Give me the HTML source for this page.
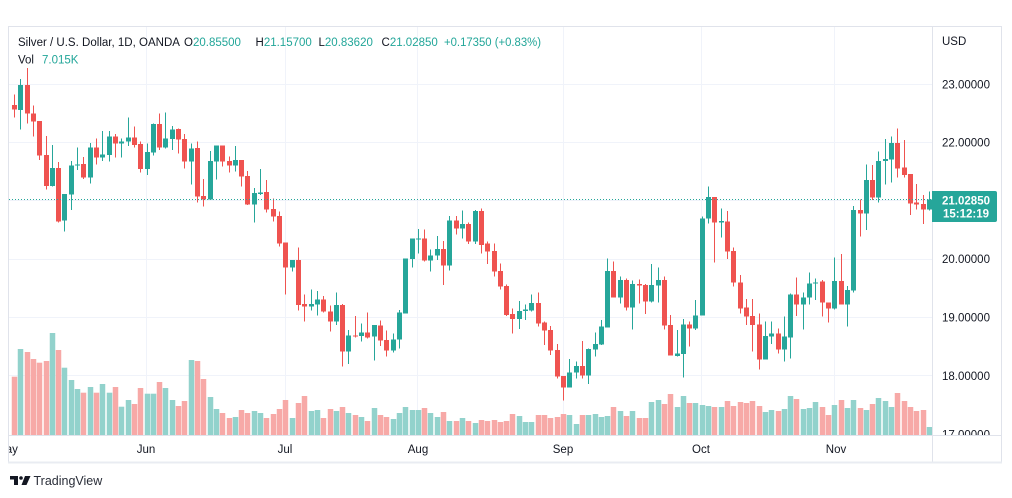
<!DOCTYPE html>
<html><head><meta charset="utf-8"><style>
html,body{margin:0;padding:0;background:#fff;}
svg{display:block;}
text{font-family:"Liberation Sans",sans-serif;}
</style></head><body>
<svg width="1012" height="498" viewBox="0 0 1012 498" xmlns="http://www.w3.org/2000/svg">
<defs>
<clipPath id="pane"><rect x="9" y="27" width="923" height="408"/></clipPath>
<clipPath id="axis"><rect x="933" y="27" width="68" height="408"/></clipPath>
<clipPath id="taxis"><rect x="9" y="436" width="923" height="26"/></clipPath>
</defs>
<rect width="1012" height="498" fill="#fff"/>
<!-- grid -->
<g stroke="#f0f3fa" stroke-width="1">
<line x1="9" y1="84.5" x2="932" y2="84.5"/>
<line x1="9" y1="142.5" x2="932" y2="142.5"/>
<line x1="9" y1="200.5" x2="932" y2="200.5"/>
<line x1="9" y1="259.5" x2="932" y2="259.5"/>
<line x1="9" y1="317.5" x2="932" y2="317.5"/>
<line x1="9" y1="375.5" x2="932" y2="375.5"/>
<line x1="146.5" y1="27" x2="146.5" y2="435"/>
<line x1="285.5" y1="27" x2="285.5" y2="435"/>
<line x1="417.5" y1="27" x2="417.5" y2="435"/>
<line x1="563.5" y1="27" x2="563.5" y2="435"/>
<line x1="701.5" y1="27" x2="701.5" y2="435"/>
<line x1="834.5" y1="27" x2="834.5" y2="435"/>
</g>
<g clip-path="url(#pane)">
<!-- volume green -->
<g fill="#92d2cc">
<rect x="17.75" y="349" width="5.5" height="86"/><rect x="49.75" y="333" width="5.5" height="102"/><rect x="61.75" y="367.7" width="5.5" height="67.3"/><rect x="68.75" y="380" width="5.5" height="55"/><rect x="74.75" y="389" width="5.5" height="46"/><rect x="87.75" y="387" width="5.5" height="48"/><rect x="99.75" y="384" width="5.5" height="51"/><rect x="106.75" y="392.7" width="5.5" height="42.3"/><rect x="118.75" y="406.7" width="5.5" height="28.3"/><rect x="125.75" y="400" width="5.5" height="35"/>
<rect x="144.75" y="393.7" width="5.5" height="41.3"/><rect x="150.75" y="393.7" width="5.5" height="41.3"/><rect x="162.75" y="388" width="5.5" height="47"/><rect x="169.75" y="400" width="5.5" height="35"/><rect x="188.75" y="360" width="5.5" height="75"/><rect x="207.75" y="397" width="5.5" height="38"/><rect x="213.75" y="409" width="5.5" height="26"/><rect x="232.75" y="417" width="5.5" height="18"/><rect x="251.75" y="411" width="5.5" height="24"/><rect x="257.75" y="413" width="5.5" height="22"/>
<rect x="289.75" y="418" width="5.5" height="17"/><rect x="308.75" y="411" width="5.5" height="24"/><rect x="314.75" y="410" width="5.5" height="25"/><rect x="333.75" y="411" width="5.5" height="24"/><rect x="345.75" y="413" width="5.5" height="22"/><rect x="358.75" y="417" width="5.5" height="18"/><rect x="371.75" y="408" width="5.5" height="27"/><rect x="390.75" y="419" width="5.5" height="16"/><rect x="396.75" y="413" width="5.5" height="22"/><rect x="402.75" y="407" width="5.5" height="28"/>
<rect x="409.75" y="410" width="5.5" height="25"/><rect x="415.75" y="410" width="5.5" height="25"/><rect x="427.75" y="413" width="5.5" height="22"/><rect x="434.75" y="417" width="5.5" height="18"/><rect x="446.75" y="421" width="5.5" height="14"/><rect x="459.75" y="418" width="5.5" height="17"/><rect x="472.75" y="423" width="5.5" height="12"/><rect x="516.75" y="416" width="5.5" height="19"/><rect x="522.75" y="422" width="5.5" height="13"/><rect x="528.75" y="422" width="5.5" height="13"/>
<rect x="566.75" y="415" width="5.5" height="20"/><rect x="573.75" y="424" width="5.5" height="11"/><rect x="585.75" y="415" width="5.5" height="20"/><rect x="592.75" y="414" width="5.5" height="21"/><rect x="598.75" y="417" width="5.5" height="18"/><rect x="604.75" y="416" width="5.5" height="19"/><rect x="617.75" y="411" width="5.5" height="24"/><rect x="629.75" y="411" width="5.5" height="24"/><rect x="648.75" y="402" width="5.5" height="33"/><rect x="655.75" y="400" width="5.5" height="35"/>
<rect x="674.75" y="407" width="5.5" height="28"/><rect x="680.75" y="396" width="5.5" height="39"/><rect x="692.75" y="403" width="5.5" height="32"/><rect x="699.75" y="405" width="5.5" height="30"/><rect x="705.75" y="406" width="5.5" height="29"/><rect x="718.75" y="407" width="5.5" height="28"/><rect x="762.75" y="412" width="5.5" height="23"/><rect x="768.75" y="410" width="5.5" height="25"/><rect x="781.75" y="409" width="5.5" height="26"/><rect x="787.75" y="396" width="5.5" height="39"/>
<rect x="800.75" y="409" width="5.5" height="26"/><rect x="806.75" y="408" width="5.5" height="27"/><rect x="812.75" y="402" width="5.5" height="33"/><rect x="831.75" y="405" width="5.5" height="30"/><rect x="844.75" y="408" width="5.5" height="27"/><rect x="850.75" y="400" width="5.5" height="35"/><rect x="863.75" y="410" width="5.5" height="25"/><rect x="875.75" y="398" width="5.5" height="37"/><rect x="882.75" y="401" width="5.5" height="34"/><rect x="888.75" y="407" width="5.5" height="28"/>
<rect x="926.75" y="427" width="5.5" height="8"/>
</g>
<!-- volume red -->
<g fill="#f7a9a7">
<rect x="11.75" y="376.7" width="5.5" height="58.3"/><rect x="24.75" y="352" width="5.5" height="83"/><rect x="30.75" y="359" width="5.5" height="76"/><rect x="36.75" y="362.7" width="5.5" height="72.3"/><rect x="43.75" y="361" width="5.5" height="74"/><rect x="55.75" y="350" width="5.5" height="85"/><rect x="80.75" y="392.7" width="5.5" height="42.3"/><rect x="93.75" y="392.7" width="5.5" height="42.3"/><rect x="112.75" y="387" width="5.5" height="48"/><rect x="131.75" y="404" width="5.5" height="31"/>
<rect x="137.75" y="388" width="5.5" height="47"/><rect x="156.75" y="382" width="5.5" height="53"/><rect x="175.75" y="406" width="5.5" height="29"/><rect x="181.75" y="401" width="5.5" height="34"/><rect x="194.75" y="361" width="5.5" height="74"/><rect x="200.75" y="379" width="5.5" height="56"/><rect x="219.75" y="413" width="5.5" height="22"/><rect x="226.75" y="418" width="5.5" height="17"/><rect x="238.75" y="410" width="5.5" height="25"/><rect x="244.75" y="413" width="5.5" height="22"/>
<rect x="263.75" y="418" width="5.5" height="17"/><rect x="270.75" y="414" width="5.5" height="21"/><rect x="276.75" y="409" width="5.5" height="26"/><rect x="282.75" y="400" width="5.5" height="35"/><rect x="295.75" y="403" width="5.5" height="32"/><rect x="301.75" y="396" width="5.5" height="39"/><rect x="320.75" y="418" width="5.5" height="17"/><rect x="327.75" y="409" width="5.5" height="26"/><rect x="339.75" y="407" width="5.5" height="28"/><rect x="352.75" y="415" width="5.5" height="20"/>
<rect x="364.75" y="421" width="5.5" height="14"/><rect x="377.75" y="415" width="5.5" height="20"/><rect x="383.75" y="417" width="5.5" height="18"/><rect x="421.75" y="408" width="5.5" height="27"/><rect x="440.75" y="412" width="5.5" height="23"/><rect x="453.75" y="421" width="5.5" height="14"/><rect x="465.75" y="421" width="5.5" height="14"/><rect x="478.75" y="420" width="5.5" height="15"/><rect x="484.75" y="421" width="5.5" height="14"/><rect x="491.75" y="420" width="5.5" height="15"/>
<rect x="497.75" y="422" width="5.5" height="13"/><rect x="503.75" y="421" width="5.5" height="14"/><rect x="509.75" y="414" width="5.5" height="21"/><rect x="535.75" y="415" width="5.5" height="20"/><rect x="541.75" y="415" width="5.5" height="20"/><rect x="547.75" y="418" width="5.5" height="17"/><rect x="554.75" y="417" width="5.5" height="18"/><rect x="560.75" y="414" width="5.5" height="21"/><rect x="579.75" y="415" width="5.5" height="20"/><rect x="610.75" y="407" width="5.5" height="28"/>
<rect x="623.75" y="416" width="5.5" height="19"/><rect x="636.75" y="418" width="5.5" height="17"/><rect x="642.75" y="418" width="5.5" height="17"/><rect x="661.75" y="404" width="5.5" height="31"/><rect x="667.75" y="394" width="5.5" height="41"/><rect x="686.75" y="403" width="5.5" height="32"/><rect x="711.75" y="407" width="5.5" height="28"/><rect x="724.75" y="401" width="5.5" height="34"/><rect x="730.75" y="406" width="5.5" height="29"/><rect x="737.75" y="402" width="5.5" height="33"/>
<rect x="743.75" y="403" width="5.5" height="32"/><rect x="749.75" y="401" width="5.5" height="34"/><rect x="756.75" y="406" width="5.5" height="29"/><rect x="775.75" y="411" width="5.5" height="24"/><rect x="793.75" y="399" width="5.5" height="36"/><rect x="819.75" y="407" width="5.5" height="28"/><rect x="825.75" y="415" width="5.5" height="20"/><rect x="838.75" y="400" width="5.5" height="35"/><rect x="857.75" y="408" width="5.5" height="27"/><rect x="869.75" y="404" width="5.5" height="31"/>
<rect x="894.75" y="393" width="5.5" height="42"/><rect x="901.75" y="401" width="5.5" height="34"/><rect x="907.75" y="407" width="5.5" height="28"/><rect x="913.75" y="411" width="5.5" height="24"/><rect x="920.75" y="410" width="5.5" height="25"/>
</g>
<!-- candles (y in 1/3 px units, offset 60) -->
<g transform="translate(0,60) scale(1,0.333333)" shape-rendering="crispEdges">
<g fill="#26a69a">
<rect x="20" y="57" width="1" height="151"/><rect x="18" y="75" width="5" height="75"/>
<rect x="52" y="255" width="1" height="125"/><rect x="50" y="324" width="5" height="54"/>
<rect x="64" y="402" width="1" height="113"/><rect x="62" y="402" width="5" height="80"/>
<rect x="71" y="303" width="1" height="147"/><rect x="69" y="316" width="5" height="88"/>
<rect x="77" y="262" width="1" height="68"/><rect x="75" y="313" width="5" height="4"/>
<rect x="90" y="249" width="1" height="122"/><rect x="88" y="262" width="5" height="91"/>
<rect x="102" y="213" width="1" height="90"/><rect x="100" y="283" width="5" height="10"/>
<rect x="109" y="213" width="1" height="92"/><rect x="107" y="229" width="5" height="56"/>
<rect x="121" y="235" width="1" height="58"/><rect x="119" y="244" width="5" height="6"/>
<rect x="128" y="173" width="1" height="85"/><rect x="126" y="232" width="5" height="12"/>
<rect x="147" y="250" width="1" height="95"/><rect x="145" y="276" width="5" height="51"/>
<rect x="153" y="190" width="1" height="97"/><rect x="151" y="192" width="5" height="86"/>
<rect x="165" y="157" width="1" height="108"/><rect x="163" y="235" width="5" height="27"/>
<rect x="172" y="198" width="1" height="72"/><rect x="170" y="208" width="5" height="29"/>
<rect x="191" y="250" width="1" height="123"/><rect x="189" y="265" width="5" height="40"/>
<rect x="210" y="273" width="1" height="145"/><rect x="208" y="303" width="5" height="115"/>
<rect x="216" y="256" width="1" height="102"/><rect x="214" y="256" width="5" height="49"/>
<rect x="235" y="258" width="1" height="77"/><rect x="233" y="300" width="5" height="17"/>
<rect x="254" y="384" width="1" height="104"/><rect x="252" y="399" width="5" height="34"/>
<rect x="260" y="327" width="1" height="78"/><rect x="258" y="397" width="5" height="5"/>
<rect x="292" y="600" width="1" height="35"/><rect x="290" y="600" width="5" height="23"/>
<rect x="311" y="688" width="1" height="64"/><rect x="309" y="732" width="5" height="8"/>
<rect x="317" y="693" width="1" height="74"/><rect x="315" y="718" width="5" height="15"/>
<rect x="336" y="698" width="1" height="97"/><rect x="334" y="735" width="5" height="50"/>
<rect x="348" y="810" width="1" height="102"/><rect x="346" y="826" width="5" height="49"/>
<rect x="361" y="790" width="1" height="55"/><rect x="359" y="817" width="5" height="11"/>
<rect x="374" y="795" width="1" height="107"/><rect x="372" y="795" width="5" height="35"/>
<rect x="393" y="820" width="1" height="57"/><rect x="391" y="838" width="5" height="34"/>
<rect x="399" y="750" width="1" height="115"/><rect x="397" y="757" width="5" height="81"/>
<rect x="405" y="595" width="1" height="165"/><rect x="403" y="595" width="5" height="165"/>
<rect x="412" y="535" width="1" height="87"/><rect x="410" y="535" width="5" height="62"/>
<rect x="418" y="507" width="1" height="73"/><rect x="416" y="535" width="5" height="4"/>
<rect x="430" y="568" width="1" height="67"/><rect x="428" y="586" width="5" height="16"/>
<rect x="437" y="528" width="1" height="72"/><rect x="435" y="567" width="5" height="20"/>
<rect x="449" y="468" width="1" height="164"/><rect x="447" y="481" width="5" height="136"/>
<rect x="462" y="451" width="1" height="84"/><rect x="460" y="492" width="5" height="13"/>
<rect x="475" y="450" width="1" height="102"/><rect x="473" y="453" width="5" height="92"/>
<rect x="519" y="723" width="1" height="84"/><rect x="517" y="753" width="5" height="24"/>
<rect x="525" y="733" width="1" height="47"/><rect x="523" y="749" width="5" height="4"/>
<rect x="531" y="703" width="1" height="52"/><rect x="529" y="729" width="5" height="23"/>
<rect x="569" y="897" width="1" height="86"/><rect x="567" y="937" width="5" height="46"/>
<rect x="576" y="905" width="1" height="50"/><rect x="574" y="918" width="5" height="20"/>
<rect x="588" y="865" width="1" height="107"/><rect x="586" y="867" width="5" height="80"/>
<rect x="595" y="817" width="1" height="73"/><rect x="593" y="852" width="5" height="16"/>
<rect x="601" y="780" width="1" height="75"/><rect x="599" y="800" width="5" height="53"/>
<rect x="607" y="595" width="1" height="208"/><rect x="605" y="633" width="5" height="170"/>
<rect x="620" y="650" width="1" height="80"/><rect x="618" y="660" width="5" height="53"/>
<rect x="632" y="662" width="1" height="146"/><rect x="630" y="672" width="5" height="71"/>
<rect x="651" y="612" width="1" height="116"/><rect x="649" y="675" width="5" height="50"/>
<rect x="658" y="622" width="1" height="106"/><rect x="656" y="660" width="5" height="17"/>
<rect x="677" y="810" width="1" height="80"/><rect x="675" y="880" width="5" height="8"/>
<rect x="683" y="777" width="1" height="176"/><rect x="681" y="793" width="5" height="89"/>
<rect x="695" y="720" width="1" height="90"/><rect x="693" y="766" width="5" height="40"/>
<rect x="702" y="470" width="1" height="297"/><rect x="700" y="475" width="5" height="292"/>
<rect x="708" y="380" width="1" height="110"/><rect x="706" y="411" width="5" height="64"/>
<rect x="721" y="445" width="1" height="88"/><rect x="719" y="483" width="5" height="5"/>
<rect x="765" y="785" width="1" height="113"/><rect x="763" y="828" width="5" height="70"/>
<rect x="771" y="785" width="1" height="67"/><rect x="769" y="820" width="5" height="10"/>
<rect x="784" y="770" width="1" height="135"/><rect x="782" y="830" width="5" height="38"/>
<rect x="790" y="700" width="1" height="195"/><rect x="788" y="703" width="5" height="129"/>
<rect x="803" y="697" width="1" height="111"/><rect x="801" y="712" width="5" height="21"/>
<rect x="809" y="637" width="1" height="96"/><rect x="807" y="670" width="5" height="42"/>
<rect x="815" y="655" width="1" height="65"/><rect x="813" y="667" width="5" height="4"/>
<rect x="834" y="592" width="1" height="156"/><rect x="832" y="663" width="5" height="82"/>
<rect x="847" y="678" width="1" height="122"/><rect x="845" y="690" width="5" height="43"/>
<rect x="853" y="438" width="1" height="259"/><rect x="851" y="450" width="5" height="242"/>
<rect x="866" y="313" width="1" height="197"/><rect x="864" y="360" width="5" height="100"/>
<rect x="878" y="275" width="1" height="153"/><rect x="876" y="303" width="5" height="109"/>
<rect x="885" y="237" width="1" height="136"/><rect x="883" y="297" width="5" height="6"/>
<rect x="891" y="230" width="1" height="138"/><rect x="889" y="249" width="5" height="49"/>
<rect x="929" y="395" width="1" height="57"/><rect x="927" y="418" width="5" height="30"/>
</g>
<g fill="#ef5350">
<rect x="14" y="103" width="1" height="70"/><rect x="12" y="135" width="5" height="13"/>
<rect x="27" y="24" width="1" height="166"/><rect x="25" y="75" width="5" height="85"/>
<rect x="33" y="137" width="1" height="93"/><rect x="31" y="160" width="5" height="25"/>
<rect x="39" y="183" width="1" height="117"/><rect x="37" y="183" width="5" height="104"/>
<rect x="46" y="228" width="1" height="160"/><rect x="44" y="285" width="5" height="93"/>
<rect x="58" y="306" width="1" height="182"/><rect x="56" y="324" width="5" height="160"/>
<rect x="83" y="291" width="1" height="66"/><rect x="81" y="312" width="5" height="41"/>
<rect x="96" y="235" width="1" height="78"/><rect x="94" y="262" width="5" height="31"/>
<rect x="115" y="222" width="1" height="71"/><rect x="113" y="229" width="5" height="22"/>
<rect x="134" y="200" width="1" height="63"/><rect x="132" y="232" width="5" height="23"/>
<rect x="140" y="245" width="1" height="93"/><rect x="138" y="252" width="5" height="75"/>
<rect x="159" y="160" width="1" height="110"/><rect x="157" y="192" width="5" height="71"/>
<rect x="178" y="205" width="1" height="75"/><rect x="176" y="207" width="5" height="31"/>
<rect x="184" y="222" width="1" height="103"/><rect x="182" y="237" width="5" height="68"/>
<rect x="197" y="245" width="1" height="183"/><rect x="195" y="264" width="5" height="146"/>
<rect x="203" y="357" width="1" height="83"/><rect x="201" y="408" width="5" height="10"/>
<rect x="222" y="256" width="1" height="64"/><rect x="220" y="256" width="5" height="49"/>
<rect x="229" y="290" width="1" height="48"/><rect x="227" y="303" width="5" height="14"/>
<rect x="241" y="300" width="1" height="80"/><rect x="239" y="300" width="5" height="50"/>
<rect x="247" y="333" width="1" height="102"/><rect x="245" y="348" width="5" height="85"/>
<rect x="266" y="360" width="1" height="98"/><rect x="264" y="396" width="5" height="53"/>
<rect x="273" y="415" width="1" height="70"/><rect x="271" y="447" width="5" height="23"/>
<rect x="279" y="455" width="1" height="105"/><rect x="277" y="468" width="5" height="83"/>
<rect x="285" y="548" width="1" height="155"/><rect x="283" y="548" width="5" height="75"/>
<rect x="298" y="562" width="1" height="190"/><rect x="296" y="600" width="5" height="135"/>
<rect x="304" y="703" width="1" height="82"/><rect x="302" y="732" width="5" height="8"/>
<rect x="323" y="708" width="1" height="50"/><rect x="321" y="718" width="5" height="37"/>
<rect x="330" y="737" width="1" height="78"/><rect x="328" y="755" width="5" height="30"/>
<rect x="342" y="732" width="1" height="188"/><rect x="340" y="735" width="5" height="140"/>
<rect x="355" y="768" width="1" height="64"/><rect x="353" y="826" width="5" height="4"/>
<rect x="367" y="757" width="1" height="78"/><rect x="365" y="817" width="5" height="15"/>
<rect x="380" y="782" width="1" height="76"/><rect x="378" y="796" width="5" height="46"/>
<rect x="386" y="812" width="1" height="78"/><rect x="384" y="840" width="5" height="32"/>
<rect x="424" y="508" width="1" height="97"/><rect x="422" y="535" width="5" height="67"/>
<rect x="443" y="543" width="1" height="132"/><rect x="441" y="567" width="5" height="50"/>
<rect x="456" y="468" width="1" height="56"/><rect x="454" y="481" width="5" height="24"/>
<rect x="468" y="487" width="1" height="65"/><rect x="466" y="492" width="5" height="53"/>
<rect x="481" y="445" width="1" height="135"/><rect x="479" y="453" width="5" height="102"/>
<rect x="487" y="545" width="1" height="67"/><rect x="485" y="550" width="5" height="25"/>
<rect x="494" y="550" width="1" height="100"/><rect x="492" y="573" width="5" height="62"/>
<rect x="500" y="610" width="1" height="78"/><rect x="498" y="633" width="5" height="47"/>
<rect x="506" y="673" width="1" height="95"/><rect x="504" y="678" width="5" height="87"/>
<rect x="512" y="745" width="1" height="75"/><rect x="510" y="762" width="5" height="15"/>
<rect x="538" y="697" width="1" height="103"/><rect x="536" y="729" width="5" height="61"/>
<rect x="544" y="785" width="1" height="70"/><rect x="542" y="788" width="5" height="24"/>
<rect x="550" y="798" width="1" height="87"/><rect x="548" y="810" width="5" height="62"/>
<rect x="557" y="852" width="1" height="103"/><rect x="555" y="870" width="5" height="80"/>
<rect x="563" y="948" width="1" height="74"/><rect x="561" y="948" width="5" height="35"/>
<rect x="582" y="843" width="1" height="112"/><rect x="580" y="918" width="5" height="29"/>
<rect x="613" y="605" width="1" height="108"/><rect x="611" y="633" width="5" height="80"/>
<rect x="626" y="655" width="1" height="97"/><rect x="624" y="660" width="5" height="83"/>
<rect x="639" y="658" width="1" height="72"/><rect x="637" y="672" width="5" height="5"/>
<rect x="645" y="672" width="1" height="90"/><rect x="643" y="675" width="5" height="50"/>
<rect x="664" y="650" width="1" height="158"/><rect x="662" y="660" width="5" height="137"/>
<rect x="670" y="765" width="1" height="122"/><rect x="668" y="795" width="5" height="92"/>
<rect x="689" y="785" width="1" height="75"/><rect x="687" y="793" width="5" height="13"/>
<rect x="714" y="411" width="1" height="197"/><rect x="712" y="411" width="5" height="77"/>
<rect x="727" y="453" width="1" height="144"/><rect x="725" y="484" width="5" height="91"/>
<rect x="733" y="563" width="1" height="117"/><rect x="731" y="573" width="5" height="94"/>
<rect x="740" y="645" width="1" height="115"/><rect x="738" y="667" width="5" height="78"/>
<rect x="746" y="717" width="1" height="78"/><rect x="744" y="743" width="5" height="27"/>
<rect x="752" y="717" width="1" height="158"/><rect x="750" y="768" width="5" height="27"/>
<rect x="759" y="760" width="1" height="168"/><rect x="757" y="793" width="5" height="105"/>
<rect x="778" y="805" width="1" height="75"/><rect x="776" y="820" width="5" height="48"/>
<rect x="796" y="652" width="1" height="116"/><rect x="794" y="703" width="5" height="30"/>
<rect x="822" y="660" width="1" height="110"/><rect x="820" y="665" width="5" height="63"/>
<rect x="828" y="728" width="1" height="60"/><rect x="826" y="728" width="5" height="17"/>
<rect x="841" y="582" width="1" height="151"/><rect x="839" y="663" width="5" height="70"/>
<rect x="860" y="418" width="1" height="112"/><rect x="858" y="450" width="5" height="10"/>
<rect x="872" y="315" width="1" height="105"/><rect x="870" y="360" width="5" height="52"/>
<rect x="897" y="205" width="1" height="147"/><rect x="895" y="249" width="5" height="76"/>
<rect x="904" y="240" width="1" height="112"/><rect x="902" y="323" width="5" height="22"/>
<rect x="910" y="342" width="1" height="123"/><rect x="908" y="342" width="5" height="88"/>
<rect x="916" y="372" width="1" height="76"/><rect x="914" y="428" width="5" height="5"/>
<rect x="923" y="405" width="1" height="87"/><rect x="921" y="432" width="5" height="16"/>
</g>
</g>
<!-- last price dotted line -->
<line x1="9" y1="199.5" x2="932" y2="199.5" stroke="#26a69a" stroke-width="1" stroke-dasharray="1 2"/>
</g>
<!-- legend -->
<g font-size="11.5" fill="#131722">
<text x="18" y="46" textLength="162" lengthAdjust="spacingAndGlyphs">Silver / U.S. Dollar, 1D, OANDA</text>
<text x="184" y="46">O<tspan fill="#22a699">20.85500</tspan></text>
<text x="255.5" y="46">H<tspan fill="#22a699">21.15700</tspan></text>
<text x="318.5" y="46">L<tspan fill="#22a699">20.83620</tspan></text>
<text x="381.5" y="46">C<tspan fill="#22a699">21.02850</tspan></text>
<text x="444" y="46" fill="#22a699" textLength="97" lengthAdjust="spacingAndGlyphs">+0.17350 (+0.83%)</text>
<text x="18" y="63.5">Vol</text>
<text x="42" y="63.5" fill="#22a699">7.015K</text>
</g>
<!-- frame -->
<g stroke="#e0e3eb" stroke-width="1" fill="none">
<rect x="8.5" y="26.5" width="993" height="436"/>
<line x1="932.5" y1="26" x2="932.5" y2="462"/>
<line x1="8" y1="435.5" x2="1001" y2="435.5"/>
</g>
<line x1="8" y1="462.5" x2="1002" y2="462.5" stroke="#e9ecf2" stroke-width="2"/>
<!-- price axis -->
<g font-size="11.5" fill="#131722" clip-path="url(#axis)">
<text x="942" y="45">USD</text>
<text x="942" y="88.3">23.00000</text>
<text x="942" y="146.5">22.00000</text>
<text x="942" y="263.2">20.00000</text>
<text x="942" y="321.5">19.00000</text>
<text x="942" y="379.8">18.00000</text>
<text x="942" y="438.3">17.00000</text>
</g>
<!-- last price label -->
<path d="M932 191 H995 Q997 191 997 193 V220 Q997 222 995 222 H932 Z" fill="#26a69a"/>
<g font-size="11.5" font-weight="bold" fill="#fff" text-anchor="middle">
<text x="966" y="204.3">21.02850</text>
<text x="966" y="217.5">15:12:19</text>
</g>
<!-- time axis -->
<g font-size="11.5" fill="#131722" text-anchor="middle" clip-path="url(#taxis)">
<text x="7" y="453">May</text>
<text x="146" y="453">Jun</text>
<text x="285" y="453">Jul</text>
<text x="418" y="453">Aug</text>
<text x="563" y="453">Sep</text>
<text x="701" y="453">Oct</text>
<text x="836" y="453">Nov</text>
</g>
<!-- logo -->
<g fill="#131722">
<rect x="10" y="476" width="8" height="3.5"/>
<rect x="14" y="476" width="4" height="9"/>
<circle cx="21" cy="478" r="1.8"/>
<polygon points="25,476 30.5,476 26.5,485 21.5,485"/>
</g>
<text x="33.5" y="485" font-size="12.5" fill="#2a2e39">TradingView</text>
</svg>
</body></html>
